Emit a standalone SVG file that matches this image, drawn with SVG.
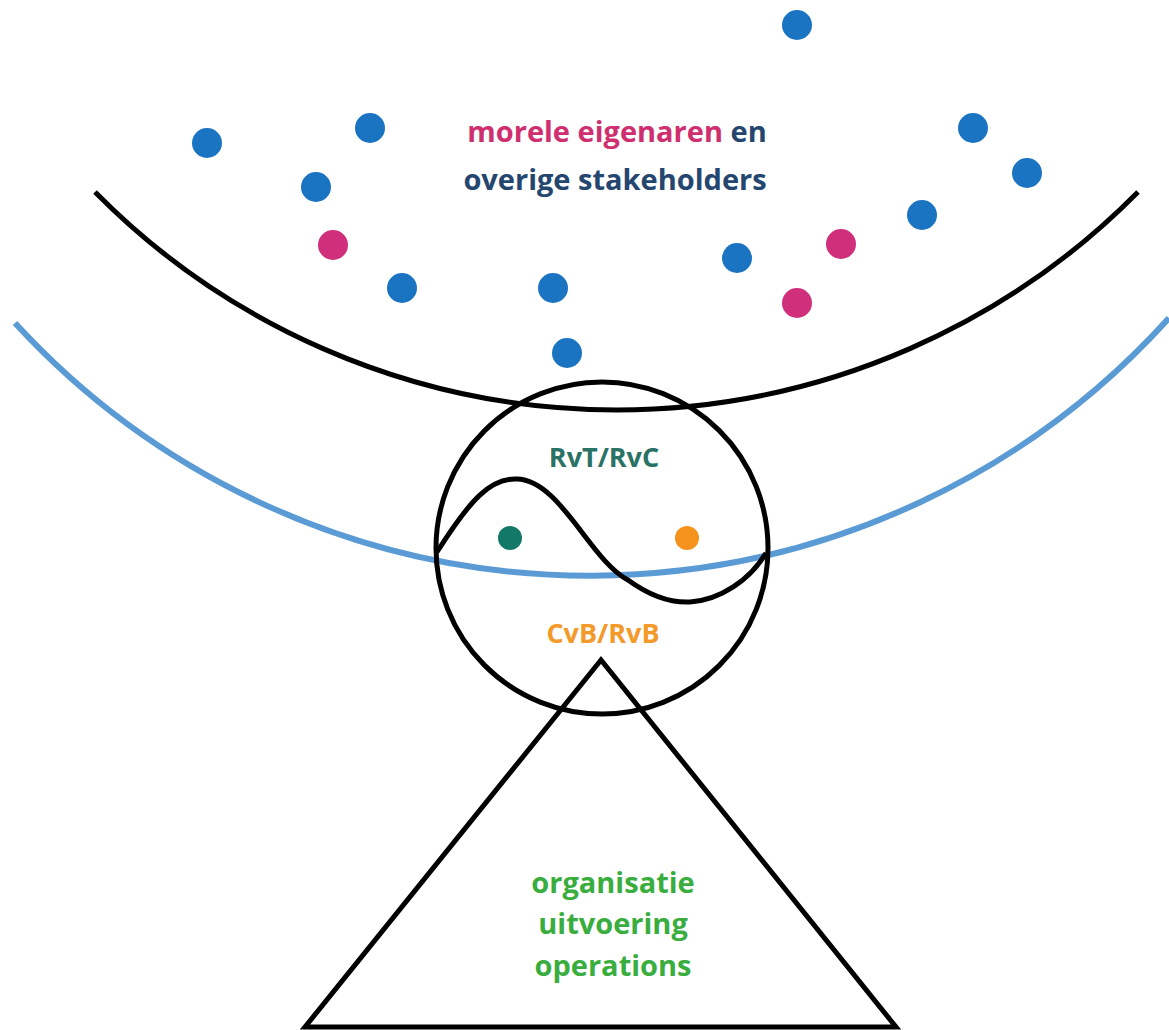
<svg xmlns="http://www.w3.org/2000/svg" width="1169" height="1030" viewBox="0 0 1169 1030">
<style>
.ln{fill:none;stroke:#000;stroke-width:5}
.bl{fill:#1a74c2}
.mg{fill:#cf2f7b}
.t{font-family:"Open Sans","Liberation Sans",sans-serif;font-weight:700;text-anchor:middle}
</style>
<rect width="1169" height="1030" fill="#fff"/>
<g id="connectors">
<path id="outer-arc" class="ln" d="M95 192 A733 733 0 0 0 1138 192"/>
<path id="blue-arc" d="M15 323 A780 780 0 0 0 1169 318" fill="none" stroke="#5b9bd5" stroke-width="6"/>
</g>
<g id="stakeholders">
<circle class="bl" cx="797" cy="25" r="15"/>
<circle class="bl" cx="207" cy="143" r="15"/>
<circle class="bl" cx="370" cy="128" r="15"/>
<circle class="bl" cx="973" cy="128" r="15"/>
<circle class="bl" cx="1027" cy="173" r="15"/>
<circle class="bl" cx="316" cy="187" r="15"/>
<circle class="bl" cx="922" cy="215" r="15"/>
<circle class="bl" cx="402" cy="288" r="15"/>
<circle class="bl" cx="553" cy="288" r="15"/>
<circle class="bl" cx="737" cy="258" r="15"/>
<circle class="bl" cx="567" cy="353" r="15"/>
<circle class="mg" cx="333" cy="245" r="15"/>
<circle class="mg" cx="841" cy="244" r="15"/>
<circle class="mg" cx="797" cy="303" r="15"/>
<text class="t" x="617" y="142" font-size="29"><tspan fill="#cf2f6e">morele eigenaren</tspan><tspan fill="#24466f"> en</tspan></text>
<text class="t" x="615" y="190" font-size="29" fill="#24466f">overige stakeholders</text>
</g>
<g id="board">
<circle class="ln" cx="602" cy="548" r="166"/>
<path class="ln" d="M437 552 C470 500 490 478 517 479 C560 480 590 560 628 580 C650 596 670 603 690 602 C720 600 750 580 766 553"/>
<circle cx="510" cy="538" r="12" fill="#127868"/>
<circle cx="687" cy="538" r="12" fill="#f5921e"/>
<text class="t" x="604" y="467" font-size="27" fill="#2a7265">RvT/RvC</text>
<text class="t" x="603" y="643" font-size="27" fill="#f39a2a">CvB/RvB</text>
</g>
<g id="organisation">
<path class="ln" d="M601 660 L305 1027 L896 1027 Z" stroke-linejoin="miter"/>
<text class="t" x="613" y="893" font-size="29" fill="#3aad3f">organisatie</text>
<text class="t" x="613" y="934" font-size="29" fill="#3aad3f">uitvoering</text>
<text class="t" x="613" y="976" font-size="29" fill="#3aad3f">operations</text>
</g>
</svg>
